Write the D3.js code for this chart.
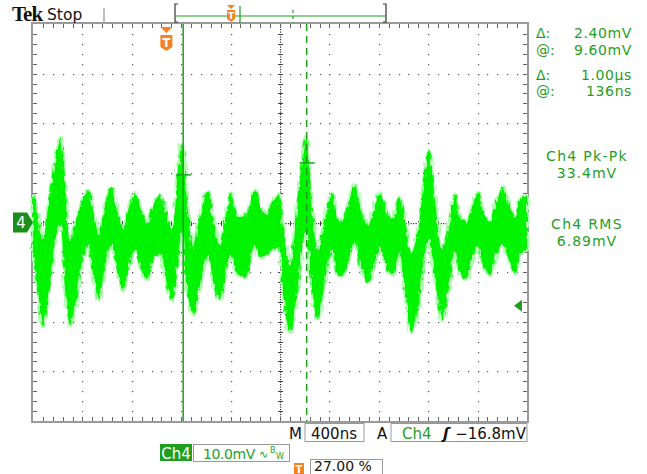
<!DOCTYPE html>
<html><head><meta charset="utf-8">
<script src="https://cdn.jsdelivr.net/npm/d3@7"></script>
<style>html,body{margin:0;padding:0;background:#fff;}svg{display:block;}</style>
</head><body><div id="chart"></div>
<script>
// ---- data (time in ns relative to trigger, voltage in mV) ----
const waveT = [-1080,-1040,-1000,-950,-900,-860,-820,-780,-730,-680,-635,-586,-546,-497,-448,-400,-351,-303,-254,-206,-157,-108,-52,0,45,94,126,167,216,272,337,386,434,483,523,580,637,677,718,758,807,855,904,952,1000,1050,1098,1131,1171,1228,1284,1341,1381,1422,1471,1527,1576,1632,1681,1730,1778,1835,1884,1932,1981,2037,2086,2126,2175,2232,2280,2337,2377,2426,2475,2523,2572,2620,2669,2726,2774,2823,2871,2920];
const waveHi = [5.5,1.5,-3.5,4.5,12.6,17.2,6.5,-3.5,0.5,4.5,6.5,1.5,-2.5,3.5,7.0,2.5,-1.5,3.0,6.0,2.5,0.0,3.5,5.5,1.5,-1.5,10.6,15.6,4.5,-5.5,1.5,6.1,-0.5,-4.5,1.5,5.9,1.0,1.5,3.5,6.5,3.5,1.5,4.0,5.5,-2.5,-8.6,0.5,12.6,17.6,4.5,-5.5,0.5,5.9,1.0,0.0,3.5,7.6,2.5,-0.5,2.5,6.0,2.5,0.5,5.0,0.5,-6.5,-1.5,8.6,14.6,4.5,-5.5,-1.5,5.5,1.0,0.0,3.0,6.0,1.5,0.0,4.0,7.0,3.5,1.0,5.0,5.5];
const waveLo = [-5.5,-13.6,-20.7,-13.6,-3.5,-0.5,-13.6,-20.7,-15.6,-7.6,-4.5,-11.6,-15.6,-8.6,-4.5,-9.6,-13.6,-8.5,-5.5,-9.0,-11.5,-7.5,-6.0,-11.6,-15.6,-7.6,-1.5,-13.6,-18.6,-12.6,-6.5,-12.6,-15.6,-9.6,-6.5,-10.5,-11.0,-7.5,-4.5,-7.0,-6.5,-5.5,-5.0,-15.6,-22.1,-15.6,-5.5,-1.5,-11.6,-19.6,-11.6,-5.5,-10.0,-11.0,-7.5,-4.0,-9.0,-12.0,-8.5,-5.0,-8.5,-10.5,-6.0,-13.6,-22.1,-17.6,-7.6,-3.5,-11.6,-19.6,-14.6,-5.5,-10.0,-11.5,-7.5,-5.0,-9.0,-10.5,-6.5,-4.5,-7.5,-10.0,-6.0,-5.5];
const cursorT = [136, 1136];          // ns
const cursorV = [9.60, 12.00];        // mV
const triggerLevel = -16.8;           // mV
const readouts = [["Δ:","2.40mV"],["@:","9.60mV"],["Δ:","1.00µs"],["@:","136ns"]];
const measures = [["Ch4 Pk-Pk","33.4mV"],["Ch4 RMS","6.89mV"]];

const W = 647, H = 474;
const svg = d3.select("#chart").append("svg").attr("width", W).attr("height", H);
svg.append("rect").attr("width", W).attr("height", H).attr("fill", "#fff");
const defs = svg.append("defs");
const flt = defs.append("filter").attr("id", "fuzz").attr("x", "-5%").attr("y", "-20%").attr("width", "110%").attr("height", "140%");
flt.append("feTurbulence").attr("type", "fractalNoise").attr("baseFrequency", "0.35 0.12").attr("numOctaves", 2).attr("seed", 3).attr("result", "n");
flt.append("feDisplacementMap").attr("in", "SourceGraphic").attr("in2", "n").attr("scale", 6).attr("xChannelSelector", "R").attr("yChannelSelector", "G");

const L = 33, R = 527, T = 24, B = 421;
const x = d3.scaleLinear().domain([-1080, 2920]).range([L, R]);
const y = d3.scaleLinear().domain([-40, 40]).range([B, T]);
const GREEN = "#1f9e1f", FONT = "'DejaVu Sans', Verdana, sans-serif";

// ---- graticule ----
const g = svg.append("g");
const divX = (R - L) / 10, divY = (B - T) / 8;
const dot = (cx, cy, w, h, c) => g.append("rect").attr("x", cx).attr("y", cy).attr("width", w).attr("height", h).attr("fill", c);
for (let i = 1; i < 10; i++) {
  if (i === 5) continue;
  const gx = Math.round(L + i * divX);
  for (let j = 1; j < 40; j++) dot(gx, Math.round(T + j * divY / 5), 1.2, 1.2, "#555");
}
for (let j = 1; j < 8; j++) {
  if (j === 4) continue;
  const gy = Math.round(T + j * divY);
  for (let i = 1; i < 50; i++) dot(Math.round(L + i * divX / 5), gy, 1.2, 1.2, "#555");
}
const cx0 = Math.round(L + 5 * divX), cy0 = Math.round(T + 4 * divY);
for (let px = L; px < R; px += 2.5) dot(px, cy0, 1.2, 1.2, "#333");
for (let py = T; py < B; py += 2.5) dot(cx0, py, 1.2, 1.2, "#333");
for (let i = 1; i < 50; i++) dot(Math.round(L + i * divX / 5), cy0 - 2, 1, 5, "#444");
for (let j = 1; j < 40; j++) dot(cx0 - 2, Math.round(T + j * divY / 5), 5, 1, "#444");
for (let i = 1; i < 50; i++) {
  const px = Math.round(L + i * divX / 5);
  dot(px, T, 1, 4, "#666"); dot(px, B - 4, 1, 4, "#666");
}
for (let j = 1; j < 40; j++) {
  const py = Math.round(T + j * divY / 5);
  dot(L, py, 4, 1, "#666"); dot(R - 4, py, 4, 1, "#666");
}
g.append("rect").attr("x", L - 1).attr("y", T - 1).attr("width", R - L + 2).attr("height", B - T + 2)
  .attr("fill", "none").attr("stroke", "#9a9a9a").attr("stroke-width", 2);

// ---- waveform band ----
const wave = waveT.map((t, i) => ({t, hi: waveHi[i], lo: waveLo[i]}));
const area = d3.area().x(d => x(d.t)).y0(d => y(d.lo)).y1(d => y(d.hi)).curve(d3.curveCatmullRom);
const wg = svg.append("g");
wg.append("path").datum(wave).attr("d", area).attr("fill", "#b0ffb0").attr("stroke", "#b0ffb0").attr("stroke-width", 4).attr("filter", "url(#fuzz)");
wg.append("path").datum(wave).attr("d", area).attr("fill", "#00f400").attr("filter", "url(#fuzz)");

// ---- cursors ----
svg.append("line").attr("x1", x(cursorT[0])).attr("x2", x(cursorT[0])).attr("y1", T).attr("y2", B)
  .attr("stroke", GREEN).attr("stroke-width", 1.5);
svg.append("line").attr("x1", x(cursorT[1])).attr("x2", x(cursorT[1])).attr("y1", T).attr("y2", B)
  .attr("stroke", GREEN).attr("stroke-width", 1.5).attr("stroke-dasharray", "7,5");
cursorT.forEach((t, i) => svg.append("line").attr("x1", x(t) - 7).attr("x2", x(t) + 8)
  .attr("y1", y(cursorV[i])).attr("y2", y(cursorV[i])).attr("stroke", GREEN).attr("stroke-width", 1.5));

// ---- markers ----
const ORANGE = "#f58220";
const tx = x(0);
svg.append("path").attr("d", `M${tx-6},${T+3}L${tx+6},${T+3}L${tx},${T+9}Z`).attr("fill", ORANGE);
svg.append("path").attr("d", `M${tx-6},${T+11}h12v12l-6,4l-6,-4Z`).attr("fill", ORANGE);
svg.append("text").attr("x", tx).attr("y", T + 23).attr("text-anchor", "middle").attr("fill", "#fff")
  .attr("font-family", FONT).attr("font-weight", "bold").attr("font-size", 12).text("T");
const gy0 = y(0);
svg.append("path").attr("d", `M13,${gy0-10}h14l6,10l-6,10h-14Z`).attr("fill", "#1b8f1b");
svg.append("text").attr("x", 21).attr("y", gy0 + 5.5).attr("text-anchor", "middle").attr("fill", "#fff")
  .attr("font-family", FONT).attr("font-size", 15).text("4");
const ty = y(triggerLevel);
svg.append("path").attr("d", `M514,${ty}l8,-6v12Z`).attr("fill", GREEN);

// ---- header ----
svg.append("text").attr("x", 12).attr("y", 21).attr("font-family", "'Liberation Serif', serif").attr("font-weight", "bold")
  .attr("font-size", 21).attr("fill", "#111").attr("letter-spacing", -1).text("Tek");
svg.append("text").attr("x", 47).attr("y", 20).attr("font-family", FONT).attr("font-size", 15.5).attr("fill", "#111").text("Stop");
svg.append("line").attr("x1", 104).attr("x2", 104).attr("y1", 8).attr("y2", 24).attr("stroke", "#aaa").attr("stroke-width", 1.5);
svg.append("path").attr("d", "M178,4h-3v18h3M383,4h3v18h-3").attr("fill", "none").attr("stroke", "#333").attr("stroke-width", 1.2);
svg.append("line").attr("x1", 175).attr("x2", 386).attr("y1", 16).attr("y2", 16).attr("stroke", GREEN).attr("stroke-width", 1.2);
svg.append("line").attr("x1", 240).attr("x2", 240).attr("y1", 6).attr("y2", 23).attr("stroke", GREEN).attr("stroke-width", 1.2);
svg.append("line").attr("x1", 293).attr("x2", 293).attr("y1", 10).attr("y2", 23).attr("stroke", GREEN).attr("stroke-width", 1.2).attr("stroke-dasharray", "3,3");
svg.append("path").attr("d", "M227,5h8l-4,4Z").attr("fill", ORANGE);
svg.append("path").attr("d", "M227,10h8v9l-4,3l-4,-3Z").attr("fill", ORANGE);
svg.append("text").attr("x", 231).attr("y", 19).attr("text-anchor", "middle").attr("fill", "#fff")
  .attr("font-family", FONT).attr("font-weight", "bold").attr("font-size", 9).text("T");

// ---- right readouts ----
const rg = svg.append("g").attr("font-family", FONT).attr("font-size", 14).attr("fill", GREEN);
const ry = [38, 55, 80, 96];
readouts.forEach((r, i) => {
  rg.append("text").attr("x", 536).attr("y", ry[i]).text(r[0]);
  rg.append("text").attr("x", 632).attr("y", ry[i]).attr("text-anchor", "end").attr("letter-spacing", 0.6).text(r[1]);
});
const my = [[161, 178], [229, 246]];
measures.forEach((m, i) => {
  rg.append("text").attr("x", 587).attr("y", my[i][0]).attr("text-anchor", "middle").attr("letter-spacing", 1.3).text(m[0]);
  rg.append("text").attr("x", 587).attr("y", my[i][1]).attr("text-anchor", "middle").attr("letter-spacing", 1).text(m[1]);
});

// ---- bottom readouts ----
const bg = svg.append("g").attr("font-family", FONT).attr("font-size", 15);
bg.append("text").attr("x", 289).attr("y", 439).attr("fill", "#111").text("M");
bg.append("rect").attr("x", 305).attr("y", 423.5).attr("width", 59).attr("height", 18).attr("fill", "#fff").attr("stroke", "#999");
bg.append("text").attr("x", 334).attr("y", 439).attr("text-anchor", "middle").attr("fill", "#111").text("400ns");
bg.append("text").attr("x", 377).attr("y", 439).attr("fill", "#111").text("A");
bg.append("rect").attr("x", 391).attr("y", 423.5).attr("width", 136).attr("height", 18).attr("fill", "#fff").attr("stroke", "#999");
bg.append("text").attr("x", 402).attr("y", 439).attr("fill", GREEN).text("Ch4");
bg.append("text").attr("x", 443).attr("y", 439).attr("fill", "#111").attr("font-style", "italic").attr("font-weight", "bold").text("ʃ");
bg.append("text").attr("x", 526).attr("y", 439).attr("text-anchor", "end").attr("fill", "#111").text("−16.8mV");
bg.append("rect").attr("x", 160).attr("y", 444).attr("width", 32).attr("height", 17).attr("fill", "#1f9e1f");
bg.append("text").attr("x", 176).attr("y", 459).attr("text-anchor", "middle").attr("fill", "#fff").text("Ch4");
bg.append("rect").attr("x", 193.5).attr("y", 444.5).attr("width", 96).attr("height", 17).attr("fill", "#fff").attr("stroke", "#999");
bg.append("text").attr("x", 203).attr("y", 459).attr("fill", GREEN).attr("font-size", 14).attr("letter-spacing", -0.4).text("10.0mV");
bg.append("text").attr("x", 259).attr("y", 458).attr("fill", GREEN).attr("font-size", 11).text("∿");
bg.append("text").attr("x", 270).attr("y", 453).attr("fill", GREEN).attr("font-size", 8).text("B");
bg.append("text").attr("x", 276).attr("y", 459).attr("fill", GREEN).attr("font-size", 8).text("W");
bg.append("rect").attr("x", 294).attr("y", 463).attr("width", 10).attr("height", 11).attr("fill", ORANGE);
bg.append("text").attr("x", 299).attr("y", 473).attr("text-anchor", "middle").attr("fill", "#fff").attr("font-size", 10).attr("font-weight", "bold").text("T");
bg.append("rect").attr("x", 310.5).attr("y", 459.5).attr("width", 72).attr("height", 18).attr("fill", "#fff").attr("stroke", "#999");
bg.append("text").attr("x", 314).attr("y", 470.5).attr("fill", "#111").attr("font-size", 14).text("27.00 %");
</script></body></html>
